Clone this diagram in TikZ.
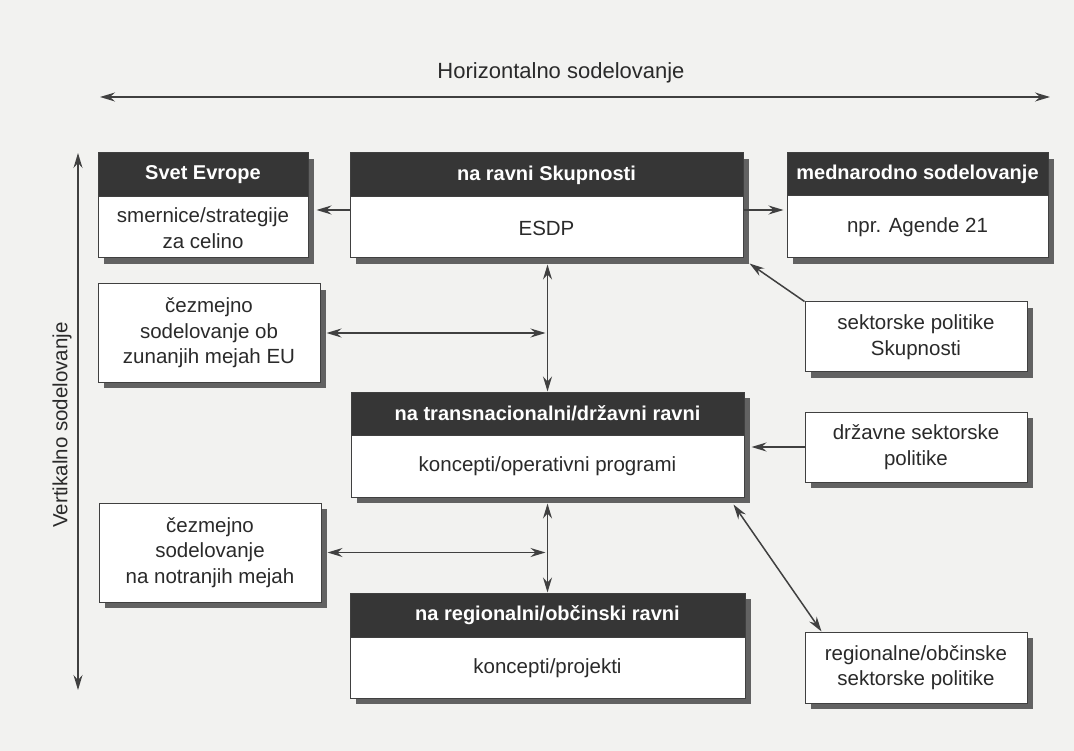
\documentclass[tikz,border=0pt]{standalone}
\usepackage{fontspec}
\setmainfont{Liberation Sans}
\usetikzlibrary{arrows.meta,calc,shadows}
\definecolor{paper}{HTML}{F2F2F0}
\definecolor{ink}{HTML}{2A2A2A}
\definecolor{headfill}{HTML}{363636}
\definecolor{shade}{HTML}{626262}
\definecolor{linec}{HTML}{404040}
\begin{document}
\begin{tikzpicture}[x=1pt,y=-1pt,
  box/.style={draw=linec, line width=1pt, fill=white,
    general shadow={fill=shade, shadow xshift=6pt, shadow yshift=-6pt}, inner sep=0pt},
  head/.style={draw=linec, line width=1pt, fill=headfill, text=white,
    font=\fontsize{20}{24}\selectfont\bfseries, inner sep=0pt, anchor=north},
  txt/.style={text=ink, font=\fontsize{20.5}{25.5}\selectfont, align=center, inner sep=0pt},
  conn/.style={draw=linec, line width=1.5pt, -{Stealth[length=15pt,width=9pt,inset=5pt]}},
  dconn/.style={draw=linec, line width=1.5pt, {Stealth[length=15pt,width=9pt,inset=5pt]}-{Stealth[length=15pt,width=9pt,inset=5pt]}}]

\useasboundingbox[fill=paper] (0,0) rectangle (1074,751);

% axes
\coordinate (htl) at (100,97);
\coordinate (htr) at (1050,97);
\draw[dconn] (htl) -- (htr);
\node[txt, font=\fontsize{22}{26}\selectfont] (htitle) at (561,73) {Horizontalno sodelovanje};
\coordinate (vt) at (78,153);
\coordinate (vb) at (78,690);
\draw[dconn] (vt) -- (vb);
\node[txt, rotate=90] (vtitle) at (62,425) {Vertikalno sodelovanje};

% top row
\node[box, minimum width=210pt, minimum height=105pt] (svet) at (203,205.5) {};
\node[head, minimum width=210pt, minimum height=44pt] (sveth) at (svet.north) {Svet Evrope};
\node[txt] (svett) at ($(sveth.south)!0.5!(svet.south)$) {smernice/strategije\\za celino};

\node[box, minimum width=393pt, minimum height=105pt] (skup) at (546.5,205.5) {};
\node[head, minimum width=393pt, minimum height=44pt] (skuph) at (skup.north) {na ravni Skupnosti};
\node[txt] (skupt) at ($(skuph.south)!0.5!(skup.south)$) {ESDP};

\node[box, minimum width=261pt, minimum height=105pt] (medn) at (917.5,205.5) {};
\node[head, minimum width=261pt, minimum height=43pt] (mednh) at (medn.north) {mednarodno sodelovanje};
\node[txt] (mednt) at ($(mednh.south)!0.5!(medn.south)$) {npr. Agende 21};

% side boxes
\node[box, minimum width=222pt, minimum height=98pt] (ob) at (209,333) {};
\node[txt] (obt) at (ob.center) {čezmejno\\sodelovanje ob\\zunanjih mejah EU};

\node[box, minimum width=222pt, minimum height=70pt] (sekS) at (916,337) {};
\node[txt] (sekSt) at (sekS.center) {sektorske politike\\Skupnosti};

% middle row
\node[box, minimum width=393pt, minimum height=105pt] (trans) at (547.5,444.5) {};
\node[head, minimum width=393pt, minimum height=43pt] (transh) at (trans.north) {na transnacionalni/državni ravni};
\node[txt] (transt) at ($(transh.south)!0.5!(trans.south)$) {koncepti/operativni programi};

\node[box, minimum width=222pt, minimum height=70pt] (drz) at (916,447) {};
\node[txt] (drzt) at (drz.center) {državne sektorske\\politike};

\node[box, minimum width=222pt, minimum height=99pt] (notr) at (210,552.5) {};
\node[txt] (notrt) at (notr.center) {čezmejno\\sodelovanje\\na notranjih mejah};

% bottom row
\node[box, minimum width=395pt, minimum height=105pt] (reg) at (547.5,645.5) {};
\node[head, minimum width=395pt, minimum height=44pt] (regh) at (reg.north) {na regionalni/občinski ravni};
\node[txt] (regt) at ($(regh.south)!0.5!(reg.south)$) {koncepti/projekti};

\node[box, minimum width=222pt, minimum height=71pt] (regS) at (916,667.5) {};
\node[txt] (regSt) at (regS.center) {regionalne/občinske\\sektorske politike};

% connectors
\draw[conn] ([yshift=-4.5pt]skup.west) -- ([xshift=8pt,yshift=-4.5pt]svet.east);
\draw[conn] ([yshift=-4.5pt]skup.east) -- ([xshift=-3pt,yshift=-4.5pt]medn.west);
\draw[conn] (sekS.north west) -- ([xshift=6pt,yshift=-5pt]skup.south east);

\coordinate (j1) at (transh.north |- ob.east);
\draw[dconn] ([yshift=-6pt]skup.south -| transh.north) -- (transh.north);
\draw[dconn, shorten >=2pt] ([xshift=6pt]ob.east) -- (j1);

\coordinate (drzT) at ([xshift=7pt]drz.west -| trans.east);
\draw[conn] (drz.west) -- (drzT);

\coordinate (j2) at (trans.south |- notr.east);
\draw[dconn] ([yshift=-6pt]trans.south) -- (regh.north);
\draw[dconn, shorten >=2pt] ([xshift=6pt]notr.east) -- (j2);

\draw[dconn] ([xshift=-11pt,yshift=-7pt]trans.south east) -- ([xshift=17pt]regS.north west);
\end{tikzpicture}
\end{document}
